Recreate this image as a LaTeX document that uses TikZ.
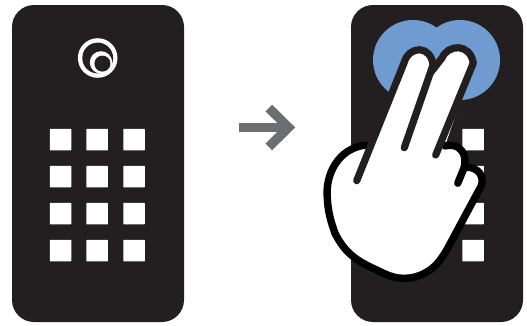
\documentclass[tikz,border=0pt]{standalone}
\definecolor{phonedark}{HTML}{231F20}
\definecolor{tapblue}{HTML}{6F9BD1}
\definecolor{arrowgray}{HTML}{6D6E71}
\tikzset{
  phone/.style={fill=phonedark, rounded corners=22pt, minimum width=172pt, minimum height=317pt, inner sep=0pt},
  keysq/.style={fill=white, rounded corners=0.5pt, minimum size=21.5pt, inner sep=0pt},
  fingerline/.style={draw=phonedark, line width=7.2pt, line cap=round, line join=round},
  palmline/.style={draw=black, line width=7.4pt, line cap=round, line join=round}
}
\begin{document}
\begin{tikzpicture}[x=1pt,y=-1pt]
  \useasboundingbox (0,0) rectangle (527,325);
  % telefoons
  \node[phone] (phoneL) at (98,163.5) {};
  \node[phone] (phoneR) at (437,163.5) {};
  % toetsen
  \foreach \ky in {139.7,176.7,213.7,250.7} {
    \foreach \kx in {60.5,97.2,134} {
      \node[keysq] at (\kx,\ky) {};
    }
    \node[keysq] at (473,\ky) {};
  }
  % logo
  \fill[white] (97.7,58) circle (19.8);
  \fill[phonedark] (97.7,58) circle (15.4);
  \fill[white] (101,62.4) circle (11.2);
  \fill[phonedark] (102.4,63.6) circle (8);
  % pijl
  \fill[arrowgray] (239.3,122.6) rectangle (284,132.2);
  \draw[arrowgray, line width=9.4pt, miter limit=4] (268.8,108) -- (288.5,127.4) -- (268.8,147);
  % blauwe vlek
  \fill[tapblue] (413,60) circle (40);
  \fill[tapblue] (460,60) circle (40);
  % hand
  \fill[white] (371,145) -- (404,63)
    .. controls (409,45) and (431,45) .. (433,65)
    -- (442,58) .. controls (448,44) and (470,43) .. (473.3,63)
    -- (445,146)
    .. controls (452,141) and (466,143) .. (465,153.3)
    -- (464,168)
    .. controls (472,165) and (485,172) .. (481.7,185)
    -- (446.7,250)
    .. controls (442,258) and (437,265) .. (430,270)
    .. controls (421,276) and (413,278.3) .. (403.3,278.3)
    .. controls (393,278.3) and (385,274) .. (376.7,270)
    .. controls (368,266) and (360,262) .. (353.3,256.7)
    .. controls (345,250) and (340,243) .. (335,233.3)
    .. controls (331,222) and (328,212) .. (327.3,198.3)
    .. controls (325,175) and (338,148) .. (371,145) -- cycle;
  % handpalm
  \draw[palmline] (366,145) .. controls (338,148) and (325,175) .. (327.3,198.3)
    .. controls (328,212) and (331,222) .. (335,233.3)
    .. controls (340,243) and (345,250) .. (353.3,256.7)
    .. controls (360,262) and (368,266) .. (376.7,270)
    .. controls (385,274) and (393,278.3) .. (403.3,278.3)
    .. controls (413,278.3) and (421,276) .. (430,270)
    .. controls (437,265) and (442,258) .. (446.7,250)
    -- (481.7,185)
    .. controls (485,172) and (472,165) .. (464,168);
  \draw[palmline] (457.7,183.3) -- (464,168)
    .. controls (468,155) and (460,142) .. (445,146);
  % vingers
  \draw[fingerline] (356.7,180.7) -- (404,63)
    .. controls (409,45) and (431,45) .. (433,65) -- (404.3,147.7);
  \draw[fingerline] (431,72) -- (442,58)
    .. controls (448,44) and (470,43) .. (473.3,63) -- (435.7,155);
\end{tikzpicture}
\end{document}
